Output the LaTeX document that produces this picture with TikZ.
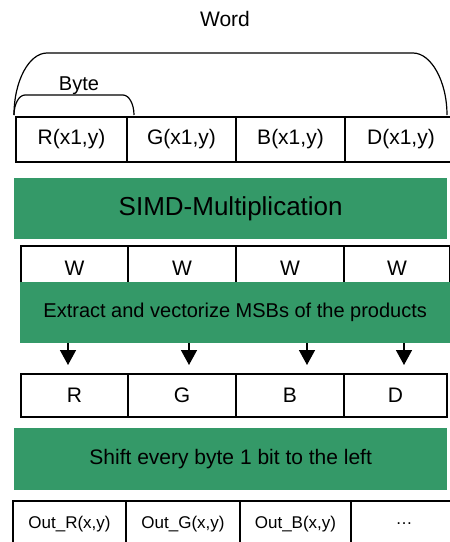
\documentclass[tikz,border=0pt]{standalone}
\usepackage{fontspec}
\setmainfont{Liberation Sans}
\usetikzlibrary{arrows.meta}
\definecolor{simdgreen}{RGB}{52,153,104}

\begin{document}
\begin{tikzpicture}[x=1pt,y=-1pt,
  cell/.style={draw, line width=2pt, anchor=north west, inner sep=0pt, font=\fontsize{21}{24}\selectfont},
  bar/.style={fill=simdgreen, anchor=north west, inner sep=0pt, minimum width=433pt, minimum height=61pt},
  arr/.style={line width=1.5pt, -{Triangle[width=16pt,length=15pt]}}]
\useasboundingbox (0,0) rectangle (450,542);

%draw word and byte braces
\node[font=\fontsize{21}{24}\selectfont] (word) at (225,19) {Word};
\node[font=\fontsize{20}{24}\selectfont] (byte) at (79,86) {Byte};
\draw[line width=1.2pt] (14,115) .. controls (14,81) and (29,53) .. (47,53) -- (413,53) .. controls (431,53) and (447,81) .. (447,115);
\draw[line width=1.2pt] (14,115) .. controls (14,104) and (19,95) .. (25,95) -- (123,95) .. controls (129,95) and (134,104) .. (134,115);

%draw top row
\foreach \n/\x/\w/\t in {1/15/111/{R(x1,y)},2/126/109/{G(x1,y)},3/235/109/{B(x1,y)},4/344/112/{D(x1,y)}}
  \node[cell, minimum width=\w pt, minimum height=45pt] (pix\n) at (\x,116) {\t};

%draw SIMD bar
\node[bar, font=\fontsize{26}{30}\selectfont] (simd) at (14,178) {SIMD-Multiplication};

%draw W row
\foreach \n/\x/\w in {1/20/107,2/127/108,3/235/108,4/343/106}
  \node[cell, minimum width=\w pt, minimum height=44pt] (w\n) at (\x,245) {W};

%draw extract bar
\node[bar, minimum width=430pt, font=\fontsize{20}{24}\selectfont] (extract) at (20,282) {Extract and vectorize MSBs of the products};

%draw arrows
\foreach \n/\x in {1/68,2/189,3/307,4/404}{
  \coordinate (tip\n) at (\x,365);
  \draw[arr] (extract.south -| tip\n) -- (tip\n);
}

%draw R row
\foreach \n/\x/\w/\t in {1/20/107/R,2/127/108/G,3/235/108/B,4/343/103/D}
  \node[cell, minimum width=\w pt, minimum height=43pt] (res\n) at (\x,373) {\t};

%draw shift bar
\node[bar, minimum height=62pt, font=\fontsize{21}{24}\selectfont] (shift) at (14,428) {Shift every byte 1 bit to the left};

%draw output row
\foreach \n/\x/\w/\t in {1/12/113/{Out\_R(x,y)},2/125/114/{Out\_G(x,y)},3/239/111/{Out\_B(x,y)},4/350/106/{…}}
  \node[cell, font=\fontsize{17}{20}\selectfont, minimum width=\w pt, minimum height=46pt] (out\n) at (\x,500) {\t};

\end{tikzpicture}
\end{document}
